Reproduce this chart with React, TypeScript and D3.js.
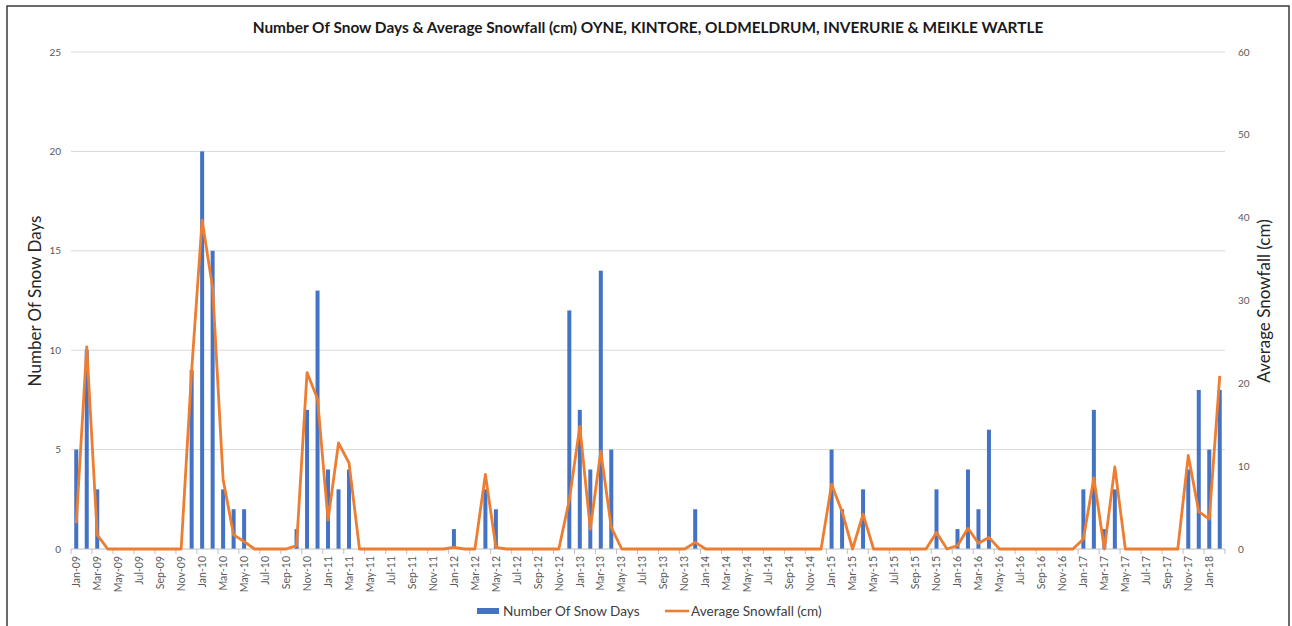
import React from "react";
import * as d3 from "d3";

const snowDays: number[] = [
  5, 10, 3, 0, 0, 0, 0, 0, 0, 0, 0, 9,
  20, 15, 3, 2, 2, 0, 0, 0, 0, 1, 7, 13,
  4, 3, 4, 0, 0, 0, 0, 0, 0, 0, 0, 0,
  1, 0, 0, 3, 2, 0, 0, 0, 0, 0, 0, 12,
  7, 4, 14, 5, 0, 0, 0, 0, 0, 0, 0, 2,
  0, 0, 0, 0, 0, 0, 0, 0, 0, 0, 0, 0,
  5, 2, 0, 3, 0, 0, 0, 0, 0, 0, 3, 0,
  1, 4, 2, 6, 0, 0, 0, 0, 0, 0, 0, 0,
  3, 7, 1, 3, 0, 0, 0, 0, 0, 0, 4, 8,
  5, 8,
];

const avgSnowfall: number[] = [
  3.1, 24.4, 1.7, 0, 0, 0, 0, 0, 0, 0, 0, 21.5,
  39.7, 31.5, 8.4, 1.7, 0.9, 0, 0, 0, 0, 0.4, 21.3, 18.1,
  3.5, 12.8, 10.4, 0, 0, 0, 0, 0, 0, 0, 0, 0,
  0.2, 0, 0, 9.0, 0.2, 0, 0, 0, 0, 0, 0, 5.9,
  14.8, 2.4, 11.8, 2.6, 0, 0, 0, 0, 0, 0, 0, 0.8,
  0, 0, 0, 0, 0, 0, 0, 0, 0, 0, 0, 0,
  7.8, 4.5, 0, 4.2, 0, 0, 0, 0, 0, 0, 2.0, 0,
  0.4, 2.5, 0.7, 1.4, 0, 0, 0, 0, 0, 0, 0, 0,
  1.2, 8.6, 0, 9.9, 0, 0, 0, 0, 0, 0, 11.3, 4.5,
  3.6, 20.9,
];

const leftTicks: number[] = [0, 5, 10, 15, 20, 25];
const rightTicks: number[] = [0, 10, 20, 30, 40, 50, 60];

const fmt = d3.timeFormat("%b-%y");
const months: string[] = d3
  .timeMonths(new Date(2009, 0, 1), new Date(2018, 2, 1))
  .map((d) => fmt(d));

const W = 1292;
const H = 626;
const left = 71;
const right = 1225;
const top = 52;
const bottom = 549;
const FONT = "Lato, 'Open Sans', sans-serif";

export default function App() {
  const x = d3.scaleBand<string>().domain(months).range([left, right]).padding(0);
  const yL = d3.scaleLinear().domain([0, 25]).range([bottom, top]);
  const yR = d3.scaleLinear().domain([0, 60]).range([bottom, top]);
  const bw = 4;
  const cx = (m: string) => (x(m) as number) + x.bandwidth() / 2;

  const line = d3
    .line<number>()
    .x((_, i) => cx(months[i]))
    .y((v) => yR(v));

  const tickXs = months
    .map((m, i) => (i % 2 === 0 ? (x(m) as number) : null))
    .filter((v) => v !== null) as number[];
  tickXs.push(right);

  return (
    <svg
      width={W}
      height={H}
      style={{ position: "absolute", left: 0, top: 0, background: "#fff" }}
      fontFamily={FONT}
    >
      <rect x={0} y={0} width={W} height={H} fill="#fff" />
      <rect x={7} y={6} width={1282} height={H} fill="none" stroke="#3a3a3a" strokeWidth={1.5} />
      <text
        x={648}
        y={33}
        textAnchor="middle"
        fontSize={15.4}
        fontWeight="bold"
        fill="#1a1a1a"
      >
        Number Of Snow Days &amp; Average Snowfall (cm) OYNE, KINTORE, OLDMELDRUM, INVERURIE &amp; MEIKLE WARTLE
      </text>

      {leftTicks.slice(1).map((t) => (
        <line key={"g" + t} x1={left} x2={right} y1={yL(t)} y2={yL(t)} stroke="#d9d9d9" strokeWidth={1} />
      ))}
      {leftTicks.map((t) => (
        <text key={"l" + t} x={61} y={yL(t) + 3.5} textAnchor="end" fontSize={10} fill="#595959">
          {t}
        </text>
      ))}
      {rightTicks.map((t) => (
        <text key={"r" + t} x={1238} y={yR(t) + 3.5} textAnchor="start" fontSize={10} fill="#595959">
          {t}
        </text>
      ))}

      {snowDays.map((v, i) => (
        <rect
          key={"b" + i}
          x={cx(months[i]) - bw / 2}
          y={yL(v)}
          width={bw}
          height={bottom - yL(v)}
          fill="#4472C4"
        />
      ))}

      <line x1={left} x2={right} y1={bottom} y2={bottom} stroke="#bfbfbf" strokeWidth={1} />
      {tickXs.map((tx, i) => (
        <line key={"t" + i} x1={tx} x2={tx} y1={bottom} y2={bottom + 5} stroke="#bfbfbf" strokeWidth={1} />
      ))}

      <path d={line(avgSnowfall) || ""} fill="none" stroke="#ED7D31" strokeWidth={2.8} strokeLinejoin="round" />

      {months.map((m, i) =>
        i % 2 === 0 ? (
          <text
            key={"x" + i}
            transform={`translate(${cx(m) + 3.7},${556}) rotate(-90)`}
            textAnchor="end"
            fontSize={10.5}
            fill="#595959"
          >
            {m}
          </text>
        ) : null
      )}

      <text
        transform={`translate(41,301) rotate(-90)`}
        textAnchor="middle"
        fontSize={17}
        fill="#262626"
      >
        Number Of Snow Days
      </text>
      <text
        transform={`translate(1270,301) rotate(-90)`}
        textAnchor="middle"
        fontSize={17}
        fill="#262626"
      >
        Average Snowfall (cm)
      </text>

      <rect x={477} y={608} width={22} height={6} fill="#4472C4" />
      <text x={503} y={616} fontSize={13.6} fill="#404040">
        Number Of Snow Days
      </text>
      <line x1={665} x2={689} y1={611} y2={611} stroke="#ED7D31" strokeWidth={2.6} />
      <text x={691} y={616} fontSize={13.6} fill="#404040">
        Average Snowfall (cm)
      </text>
    </svg>
  );
}
